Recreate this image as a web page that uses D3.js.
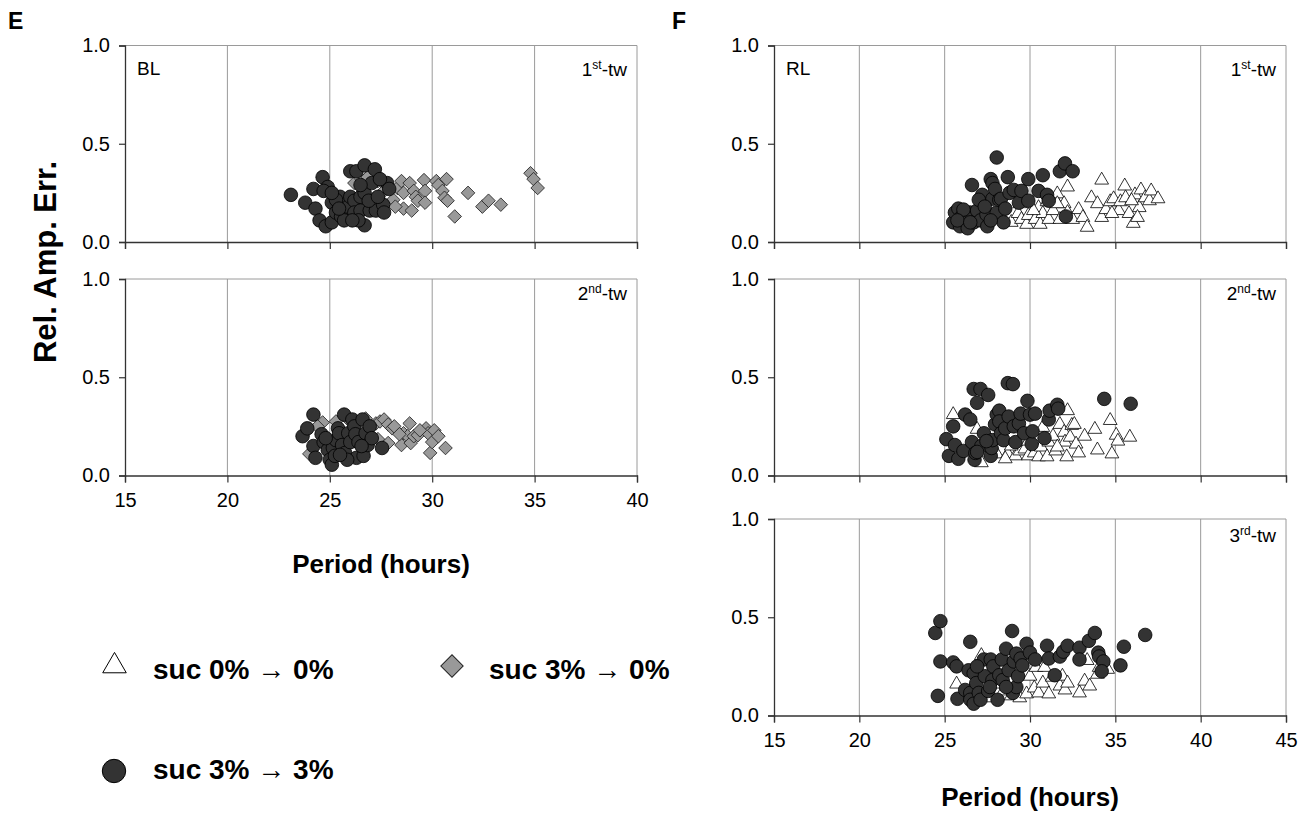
<!DOCTYPE html>
<html>
<head>
<meta charset="utf-8">
<script src="https://cdn.jsdelivr.net/npm/d3@7/dist/d3.min.js"></script>
<style>
  body { margin: 0; background: #fff; }
  text { font-family: "Liberation Sans", Arial, sans-serif; fill: #000; }
</style>
</head>
<body>
<div id="container"></div>
<script>
// tick values
var xTicksE = [15, 20, 25, 30, 35, 40];
var xTicksF = [15, 20, 25, 30, 35, 40, 45];
var yTicks = [0, 0.5, 1.0];

// series: [period (hours), rel. amp. err.]
// panel E, 1st time window
var e1Diamond = [[26.2,0.30],[26.5,0.325],[26.85,0.33],[27.35,0.31],[27.8,0.28],[28.1,0.215],[28.3,0.275],[28.5,0.31],
  [28.6,0.25],[28.6,0.17],[28.9,0.30],[29.0,0.16],[29.1,0.26],[29.2,0.23],[29.3,0.21],[29.6,0.315],[29.65,0.26],
  [29.65,0.20],[30.2,0.31],[30.3,0.29],[30.5,0.26],[30.6,0.225],[30.7,0.32],[30.75,0.21],[31.1,0.13],[31.75,0.25],
  [32.45,0.18],[32.75,0.21],[33.35,0.19],[34.8,0.35],[34.95,0.32],[35.15,0.275],[27.15,0.22],[27.55,0.25],[26.75,0.20],[28.2,0.18]];
var e1Circle = [[23.1,0.24],[23.8,0.20],[24.2,0.27],[24.65,0.33],[24.3,0.17],[24.5,0.11],[24.8,0.08],[25.1,0.10],
  [24.9,0.28],[24.7,0.26],[25.1,0.20],[25.5,0.23],[25.3,0.15],[25.55,0.13],[25.9,0.18],[26.0,0.23],[26.2,0.21],
  [26.0,0.36],[26.3,0.36],[26.5,0.23],[26.2,0.15],[26.5,0.16],[26.7,0.085],[26.7,0.39],[27.2,0.37],[26.7,0.25],
  [27.05,0.30],[26.95,0.16],[27.25,0.16],[27.6,0.19],[27.65,0.15],[27.8,0.30],[27.9,0.27],[25.3,0.215],[25.7,0.11],
  [26.4,0.11],[26.1,0.11],[25.45,0.17],[25.1,0.25],[26.9,0.21],[27.35,0.23],[26.5,0.29],[27.45,0.32]];
// panel E, 2nd time window
var e2Diamond = [[24.0,0.11],[24.65,0.27],[24.4,0.25],[25.3,0.275],[25.9,0.285],[26.75,0.29],[27.25,0.265],[27.45,0.275],
  [27.65,0.285],[27.85,0.26],[28.05,0.24],[27.85,0.165],[28.15,0.25],[28.5,0.155],[28.6,0.215],[28.8,0.20],[28.9,0.265],
  [28.95,0.165],[29.1,0.20],[29.3,0.205],[29.7,0.24],[29.8,0.215],[29.9,0.115],[30.0,0.17],[30.1,0.23],[30.3,0.20],
  [30.65,0.14],[27.35,0.185],[28.4,0.21],[29.4,0.23]];
var e2Circle = [[23.67,0.20],[23.9,0.24],[24.2,0.31],[24.2,0.15],[24.3,0.09],[24.6,0.21],[24.7,0.17],[24.9,0.13],
  [25.0,0.08],[25.1,0.055],[25.15,0.14],[25.25,0.10],[25.3,0.18],[25.4,0.24],[25.45,0.215],[25.6,0.155],[25.7,0.31],
  [25.75,0.115],[25.9,0.215],[26.0,0.17],[26.1,0.285],[26.2,0.25],[26.25,0.21],[26.3,0.09],[26.4,0.17],[26.6,0.285],
  [26.65,0.10],[26.75,0.215],[26.85,0.155],[26.95,0.25],[27.05,0.19],[27.55,0.14],[26.55,0.15],[25.85,0.08],[25.5,0.105],[24.8,0.19]];
// panel F, 1st time window
var f1Tri = [[28.45,0.12],[28.9,0.105],[29.3,0.15],[29.5,0.12],[29.8,0.095],[29.9,0.14],[30.3,0.12],[30.5,0.18],
  [30.6,0.095],[30.75,0.15],[31.0,0.21],[31.1,0.12],[31.35,0.165],[31.5,0.215],[31.6,0.25],[31.75,0.12],[32.0,0.20],
  [32.2,0.285],[32.2,0.155],[32.5,0.12],[32.85,0.17],[33.1,0.13],[33.35,0.08],[33.6,0.23],[33.95,0.20],[34.2,0.32],
  [34.2,0.13],[34.45,0.17],[34.7,0.21],[34.9,0.225],[35.2,0.165],[35.3,0.21],[35.55,0.29],[35.6,0.23],[35.8,0.15],
  [36.05,0.10],[36.15,0.245],[36.4,0.18],[36.5,0.27],[36.75,0.23],[37.0,0.215],[37.1,0.265],[37.5,0.225],[29.4,0.20],
  [30.2,0.165],[31.6,0.20],[34.8,0.15],[35.95,0.215],[36.3,0.13]];
var f1Circle = [[25.5,0.10],[25.6,0.15],[25.8,0.17],[25.9,0.08],[26.0,0.13],[26.2,0.11],[26.35,0.07],[26.5,0.15],
  [26.6,0.29],[26.7,0.10],[26.9,0.16],[27.1,0.11],[27.2,0.24],[27.45,0.14],[27.5,0.08],[27.7,0.32],[27.8,0.22],
  [27.8,0.30],[27.95,0.27],[28.05,0.15],[28.05,0.43],[28.2,0.215],[28.3,0.22],[28.45,0.10],[28.55,0.17],[28.7,0.33],
  [28.8,0.25],[29.05,0.265],[29.35,0.20],[29.5,0.26],[29.9,0.32],[29.9,0.21],[30.5,0.26],[30.75,0.34],[31.0,0.24],
  [31.1,0.21],[31.75,0.36],[32.05,0.40],[32.1,0.13],[32.5,0.36],[26.1,0.165],[27.0,0.215],[27.35,0.18],[27.7,0.11],
  [25.75,0.11],[26.5,0.10]];
// panel F, 2nd time window
var f2Tri = [[25.5,0.315],[26.9,0.24],[27.15,0.07],[27.7,0.12],[28.05,0.115],[28.7,0.115],[29.15,0.105],[29.4,0.13],
  [29.7,0.14],[29.9,0.105],[30.25,0.12],[30.5,0.10],[30.65,0.15],[30.75,0.25],[31.0,0.10],[31.1,0.175],[31.35,0.205],
  [31.5,0.13],[31.75,0.265],[32.0,0.225],[32.05,0.175],[32.15,0.10],[32.2,0.335],[32.35,0.20],[32.45,0.26],[32.6,0.265],
  [32.7,0.165],[32.85,0.12],[33.2,0.205],[33.8,0.24],[33.95,0.135],[34.7,0.285],[34.8,0.115],[35.05,0.21],[35.15,0.18],
  [35.85,0.20],[28.9,0.155],[29.9,0.18],[31.6,0.15],[28.55,0.09]];
var f2Circle = [[25.1,0.185],[25.25,0.10],[25.5,0.25],[25.6,0.155],[25.8,0.085],[26.1,0.125],[26.2,0.31],[26.5,0.285],
  [26.6,0.17],[26.7,0.44],[26.75,0.08],[26.8,0.115],[26.9,0.37],[27.1,0.44],[27.15,0.15],[27.3,0.215],[27.55,0.41],
  [27.7,0.10],[27.75,0.14],[27.8,0.18],[27.95,0.26],[28.05,0.31],[28.2,0.33],[28.2,0.275],[28.3,0.215],[28.45,0.18],
  [28.55,0.24],[28.7,0.47],[28.75,0.30],[29.0,0.465],[29.05,0.25],[29.15,0.17],[29.35,0.265],[29.45,0.315],[29.65,0.215],
  [29.85,0.38],[30.0,0.31],[30.1,0.16],[30.15,0.225],[30.3,0.315],[30.85,0.19],[31.1,0.285],[31.15,0.33],[31.6,0.36],
  [31.65,0.34],[34.35,0.39],[35.9,0.365],[27.45,0.175],[26.9,0.12]];
// panel F, 3rd time window
var f3Tri = [[25.7,0.165],[26.6,0.145],[27.15,0.31],[27.7,0.095],[28.45,0.13],[28.9,0.105],[29.15,0.23],[29.4,0.095],
  [29.8,0.115],[30.0,0.205],[30.25,0.145],[30.35,0.25],[30.5,0.12],[30.75,0.17],[30.85,0.25],[31.1,0.115],[31.3,0.20],
  [31.75,0.155],[31.9,0.205],[32.05,0.135],[32.2,0.17],[32.9,0.12],[33.2,0.18],[33.35,0.285],[33.5,0.155],[33.95,0.215],
  [34.05,0.25],[34.55,0.24],[26.95,0.215],[27.95,0.165]];
var f3Circle = [[24.45,0.42],[24.75,0.48],[24.6,0.10],[24.75,0.275],[25.5,0.27],[25.7,0.25],[25.75,0.085],[26.2,0.13],
  [26.4,0.23],[26.5,0.115],[26.5,0.375],[26.5,0.08],[26.7,0.06],[26.7,0.215],[26.85,0.165],[27.0,0.115],[27.1,0.08],
  [27.3,0.285],[27.35,0.20],[27.55,0.125],[27.7,0.285],[27.8,0.18],[27.85,0.25],[28.1,0.08],[28.2,0.205],[28.35,0.285],
  [28.4,0.18],[28.6,0.34],[28.75,0.23],[28.95,0.43],[29.0,0.115],[29.05,0.275],[29.2,0.315],[29.2,0.145],[29.3,0.20],
  [29.45,0.29],[29.55,0.255],[29.8,0.365],[30.0,0.32],[30.3,0.285],[31.0,0.355],[31.1,0.29],[31.45,0.205],[31.75,0.30],
  [31.95,0.325],[32.2,0.355],[32.9,0.345],[32.9,0.285],[33.45,0.38],[33.8,0.42],[34.0,0.32],[34.05,0.30],[34.3,0.275],
  [34.2,0.225],[35.3,0.255],[35.5,0.35],[36.75,0.41],[26.9,0.25],[27.65,0.145],[28.6,0.145]];

var width = 1316, height = 821;
var FONT = '"Liberation Sans", Arial, sans-serif';

var svg = d3.select("#container").append("svg")
    .attr("width", width)
    .attr("height", height);

// marker styles (diamond = square turned 45deg)
var markerStyle = {
  circle:  { type: d3.symbolCircle,   size: 145, rot: 0,  fill: "#333333", stroke: "#000" },
  diamond: { type: d3.symbolSquare,   size: 92,  rot: 45, fill: "#999999", stroke: "#222" },
  tri:     { type: d3.symbolTriangle, size: 82,  rot: 0,  fill: "#ffffff", stroke: "#000" }
};

function drawMarkers(g, data, kind, x, y) {
  var st = markerStyle[kind];
  var sym = d3.symbol().type(st.type).size(st.size);
  g.append("g").selectAll("path")
    .data(data)
    .enter().append("path")
      .attr("d", sym)
      .attr("transform", function(d) {
        var dy = kind === "tri" ? 1 : 0;
        return "translate(" + x(d[0]) + "," + (y(d[1]) + dy) + ") rotate(" + st.rot + ")";
      })
      .attr("fill", st.fill)
      .attr("stroke", st.stroke)
      .attr("stroke-width", 0.8);
}

function ordinalLabel(g, xPos, yPos, num, suf) {
  var t = g.append("text")
    .attr("x", xPos).attr("y", yPos)
    .attr("text-anchor", "end")
    .style("font-size", "19px");
  t.append("tspan").text(num);
  t.append("tspan").text(suf).style("font-size", "12px").attr("dy", -7);
  t.append("tspan").text("-tw").attr("dy", 7);
}

function drawPanel(p) {
  var x = d3.scaleLinear().domain([p.xTicks[0], p.xTicks[p.xTicks.length - 1]]).range([p.left, p.left + 512]);
  var y = d3.scaleLinear().domain([0, 1]).range([p.top + 196.5, p.top]);
  var g = svg.append("g");

  // vertical gridlines + top border
  g.append("g").selectAll("line")
    .data(p.xTicks.slice(1))
    .enter().append("line")
      .attr("x1", function(d) { return x(d); }).attr("x2", function(d) { return x(d); })
      .attr("y1", y(0)).attr("y2", y(1))
      .attr("stroke", "#9a9a9a").attr("stroke-width", 1);
  g.append("line")
    .attr("x1", x.range()[0]).attr("x2", x.range()[1])
    .attr("y1", y(1)).attr("y2", y(1))
    .attr("stroke", "#9a9a9a").attr("stroke-width", 1);

  // axes
  var xAxis = d3.axisBottom(x).tickValues(p.xTicks).tickSize(7).tickPadding(10)
    .tickFormat(p.showX ? d3.format("d") : "");
  var gx = g.append("g").attr("transform", "translate(0," + y(0) + ")").call(xAxis);
  var yAxis = d3.axisLeft(y).tickValues(yTicks).tickSize(6).tickPadding(9).tickFormat(d3.format(".1f"));
  var gy = g.append("g").attr("transform", "translate(" + x.range()[0] + ",0)").call(yAxis);
  [gx, gy].forEach(function(a) {
    a.select(".domain").attr("stroke", "#333").attr("stroke-width", 1.3);
    a.selectAll(".tick line").attr("stroke", "#333").attr("stroke-width", 1.2);
    a.selectAll(".tick text").style("font-family", FONT).style("font-size", "20px").attr("fill", "#000");
  });

  // points
  p.series.forEach(function(s) { drawMarkers(g, s.data, s.kind, x, y); });

  // labels
  if (p.tag) {
    g.append("text").attr("x", x.range()[0] + 12).attr("y", p.top + 29)
      .style("font-size", "19px").text(p.tag);
  }
  ordinalLabel(g, x.range()[1] - 10, p.top + p.labelDy, p.num, p.suf);
  return x;
}

var panels = [
  { left: 125, top: 45.5, xTicks: xTicksE, showX: false, tag: "BL", num: "1", suf: "st", labelDy: 30,
    series: [{ data: e1Diamond, kind: "diamond" }, { data: e1Circle, kind: "circle" }] },
  { left: 125, top: 279, xTicks: xTicksE, showX: true, tag: null, num: "2", suf: "nd", labelDy: 21,
    series: [{ data: e2Diamond, kind: "diamond" }, { data: e2Circle, kind: "circle" }] },
  { left: 774, top: 45.5, xTicks: xTicksF, showX: false, tag: "RL", num: "1", suf: "st", labelDy: 30,
    series: [{ data: f1Tri, kind: "tri" }, { data: f1Circle, kind: "circle" }] },
  { left: 774, top: 279, xTicks: xTicksF, showX: false, tag: null, num: "2", suf: "nd", labelDy: 21,
    series: [{ data: f2Tri, kind: "tri" }, { data: f2Circle, kind: "circle" }] },
  { left: 774, top: 519, xTicks: xTicksF, showX: true, tag: null, num: "3", suf: "rd", labelDy: 23,
    series: [{ data: f3Tri, kind: "tri" }, { data: f3Circle, kind: "circle" }] }
];
panels.forEach(drawPanel);

// panel letters
svg.append("text").attr("x", 8).attr("y", 29).style("font-size", "23px").style("font-weight", "bold").text("E");
svg.append("text").attr("x", 672).attr("y", 29).style("font-size", "23px").style("font-weight", "bold").text("F");

// axis titles
svg.append("text")
  .attr("transform", "translate(56,262) rotate(-90)")
  .attr("text-anchor", "middle")
  .style("font-size", "31px").style("font-weight", "bold")
  .text("Rel. Amp. Err.");
svg.append("text").attr("x", 381).attr("y", 573).attr("text-anchor", "middle")
  .style("font-size", "26px").style("font-weight", "bold").text("Period (hours)");
svg.append("text").attr("x", 1030).attr("y", 806).attr("text-anchor", "middle")
  .style("font-size", "26px").style("font-weight", "bold").text("Period (hours)");

// legend
var legendItems = [
  { kind: "tri", cx: 114.5, cy: 666, tx: 153, ty: 679, from: "suc 0% ", to: " 0%" },
  { kind: "diamond", cx: 452, cy: 666, tx: 489, ty: 679, from: "suc 3% ", to: " 0%" },
  { kind: "circle", cx: 114, cy: 771, tx: 153, ty: 779, from: "suc 3% ", to: " 3%" }
];
var legendSize = { tri: 240, diamond: 250, circle: 430 };
var legend = svg.append("g");
legendItems.forEach(function(it) {
  var st = markerStyle[it.kind];
  legend.append("path")
    .attr("d", d3.symbol().type(st.type).size(legendSize[it.kind]))
    .attr("transform", "translate(" + it.cx + "," + it.cy + ") rotate(" + st.rot + ")")
    .attr("fill", st.fill).attr("stroke", st.stroke).attr("stroke-width", 1);
  var t = legend.append("text").attr("x", it.tx).attr("y", it.ty)
    .style("font-size", "28px").style("font-weight", "bold");
  t.append("tspan").text(it.from);
  t.append("tspan").text("\u2192").style("font-weight", "normal");
  t.append("tspan").text(it.to);
});
</script>
</body>
</html>
